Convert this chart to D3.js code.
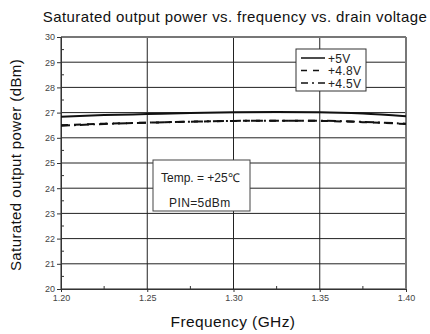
<!DOCTYPE html>
<html>
<head>
<meta charset="utf-8">
<script src="https://cdn.jsdelivr.net/npm/d3@7"></script>
<style>
body { margin: 0; background: #fff; }
text { font-family: "Liberation Sans", Arial, sans-serif; }
</style>
</head>
<body>
<script>
// data
var freq = [1.20, 1.225, 1.25, 1.275, 1.30, 1.325, 1.35, 1.375, 1.40];
var v50 = [26.84, 26.90, 26.94, 26.98, 27.01, 27.02, 27.01, 26.96, 26.86];
var v48 = [26.50, 26.56, 26.60, 26.64, 26.67, 26.68, 26.67, 26.62, 26.55];
var v45 = [26.48, 26.55, 26.60, 26.64, 26.67, 26.68, 26.68, 26.63, 26.56];
var seriesNames = ["+5V", "+4.8V", "+4.5V"];
var xTicks = [1.20, 1.25, 1.30, 1.35, 1.40];
var yTicks = [20, 21, 22, 23, 24, 25, 26, 27, 28, 29, 30];

var margin = {top: 37, right: 24, bottom: 45, left: 61},
    width = 430 - margin.left - margin.right,
    height = 334 - margin.top - margin.bottom;

var root = d3.select("body").append("svg")
    .attr("width", 430)
    .attr("height", 334);

var svg = root.append("g")
    .attr("transform", "translate(" + margin.left + "," + margin.top + ")");

var x = d3.scaleLinear().domain([1.20, 1.40]).range([0, width]);
var y = d3.scaleLinear().domain([20, 30]).range([height, 0]);

// grid
svg.selectAll(".vgrid").data(xTicks).enter().append("line")
    .attr("x1", function(d){ return x(d); }).attr("x2", function(d){ return x(d); })
    .attr("y1", 0).attr("y2", height)
    .attr("stroke", "#222").attr("stroke-width", 1);
svg.selectAll(".hgrid").data(yTicks).enter().append("line")
    .attr("y1", function(d){ return y(d); }).attr("y2", function(d){ return y(d); })
    .attr("x1", 0).attr("x2", width)
    .attr("stroke", "#222").attr("stroke-width", 1);

// frame top/right
svg.append("line").attr("x1", 0).attr("x2", width).attr("y1", 0).attr("y2", 0)
    .attr("stroke", "#777").attr("stroke-width", 2);
svg.append("line").attr("x1", width).attr("x2", width).attr("y1", 0).attr("y2", height)
    .attr("stroke", "#777").attr("stroke-width", 2);

// axes
var xAxis = svg.append("g")
    .attr("transform", "translate(0," + height + ")")
    .call(d3.axisBottom(x).tickValues(xTicks).tickFormat(d3.format(".2f")).tickSize(3).tickPadding(3));
var yAxis = svg.append("g")
    .call(d3.axisLeft(y).tickValues(yTicks).tickSize(4).tickPadding(2));
[xAxis, yAxis].forEach(function(a){
    a.select(".domain").attr("stroke", "#333");
    a.selectAll("line").attr("stroke", "#333");
    a.selectAll("text").style("font-size", "9px").attr("fill", "#444");
});

// minor ticks
var xMinor = d3.range(1.225, 1.40, 0.05);
svg.selectAll(".xminor").data(xMinor).enter().append("line")
    .attr("x1", function(d){ return x(d); }).attr("x2", function(d){ return x(d); })
    .attr("y1", height).attr("y2", height - 3)
    .attr("stroke", "#333");
var yMinor = d3.range(20.5, 30, 1);
svg.selectAll(".yminor").data(yMinor).enter().append("line")
    .attr("y1", function(d){ return y(d); }).attr("y2", function(d){ return y(d); })
    .attr("x1", 0).attr("x2", 3)
    .attr("stroke", "#333");

// lines
var dashes = [null, "7,6", "9,4,2,4"];
var all = [v50, v48, v45];
var line = d3.line()
    .x(function(d){ return x(d[0]); })
    .y(function(d){ return y(d[1]); })
    .curve(d3.curveMonotoneX);
all.forEach(function(vals, i){
    svg.append("path")
        .datum(freq.map(function(f, j){ return [f, vals[j]]; }))
        .attr("fill", "none")
        .attr("stroke", "#111")
        .attr("stroke-width", 2)
        .attr("stroke-dasharray", dashes[i])
        .attr("d", line);
});

// legend
var lg = root.append("g").attr("transform", "translate(296,49)");
lg.append("rect").attr("width", 70).attr("height", 42)
    .attr("fill", "#fff").attr("stroke", "#333").attr("stroke-width", 1);
seriesNames.forEach(function(n, i){
    var yy = 9 + i * 12.5;
    lg.append("line").attr("x1", 5).attr("x2", 29).attr("y1", yy).attr("y2", yy)
        .attr("stroke", "#111").attr("stroke-width", 1.5)
        .attr("stroke-dasharray", i == 0 ? null : (i == 1 ? "6,6" : "7,4,2,4"));
    lg.append("text").attr("x", 32).attr("y", yy + 4.5)
        .style("font-size", "12px").style("letter-spacing", "0.3px").attr("fill", "#222").text(n);
});

// info box
var ib = root.append("g").attr("transform", "translate(153,160)");
ib.append("rect").attr("width", 97).attr("height", 51)
    .attr("fill", "#fff").attr("stroke", "#444").attr("stroke-width", 1);
ib.append("text").attr("x", 8).attr("y", 22).style("font-size", "12px").attr("fill", "#222")
    .text("Temp. = +25\u2103");
ib.append("text").attr("x", 16).attr("y", 47).style("font-size", "12px").style("letter-spacing", "0.4px").attr("fill", "#222")
    .text("PIN=5dBm");

// titles
root.append("text").attr("x", 235).attr("y", 22).attr("text-anchor", "middle")
    .style("font-size", "15px").style("letter-spacing", "0.4px").attr("fill", "#111")
    .text("Saturated output power vs. frequency vs. drain voltage");
root.append("text").attr("x", 233).attr("y", 327).attr("text-anchor", "middle")
    .style("font-size", "15.5px").style("letter-spacing", "0.4px").attr("fill", "#111")
    .text("Frequency (GHz)");
root.append("text").attr("transform", "translate(21,165) rotate(-90)")
    .attr("text-anchor", "middle")
    .style("font-size", "15px").style("letter-spacing", "0.4px").attr("fill", "#111")
    .text("Saturated output power (dBm)");
</script>
</body>
</html>
